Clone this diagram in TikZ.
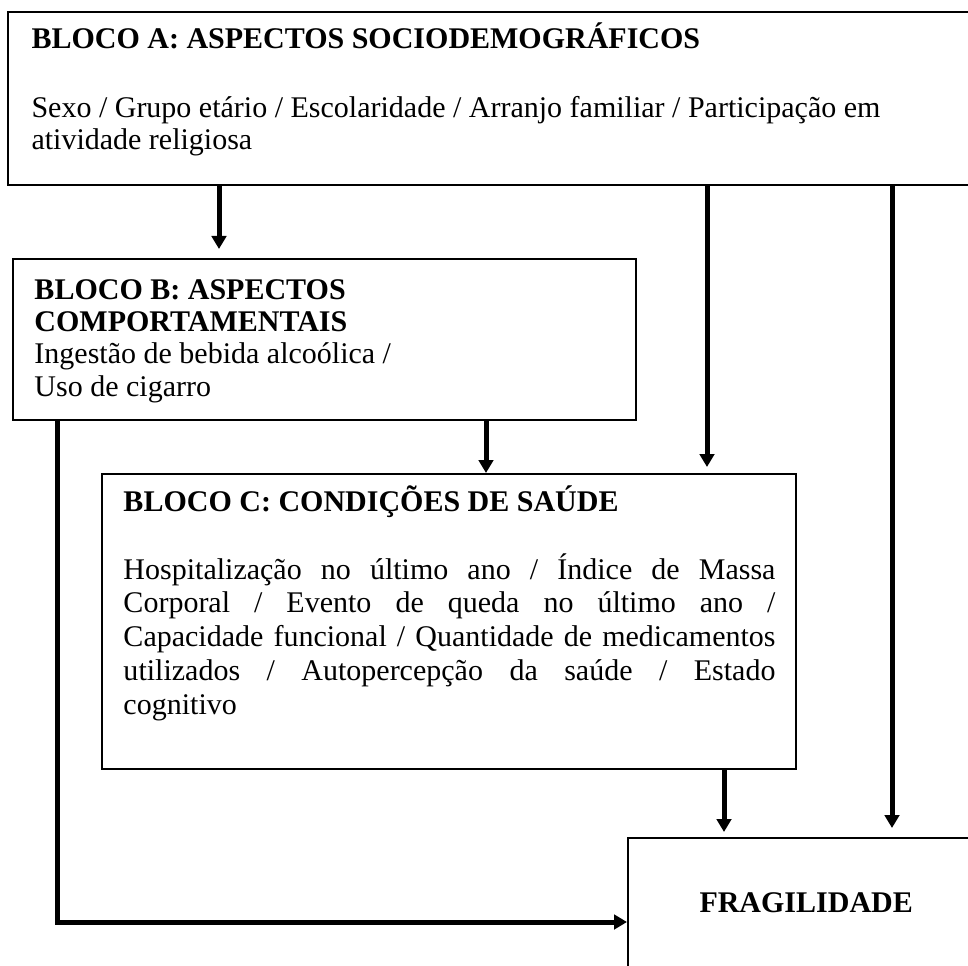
\documentclass[tikz,border=0pt]{standalone}
\usepackage{fontspec}
\setmainfont{Liberation Serif}
\usetikzlibrary{arrows.meta,fit}

\tikzset{
  blockbox/.style={draw=black, line width=0.8pt, inner sep=0pt},
  linetxt/.style={inner sep=0pt, anchor=base west,
                  font=\fontsize{12pt}{12.8pt}\selectfont},
  headtxt/.style={linetxt, font=\fontsize{12pt}{12.8pt}\selectfont\bfseries},
  flow/.style={line width=2pt, -{Triangle[length=5.2pt,width=5.8pt]}},
}

\begin{document}
\begin{tikzpicture}[x=0.4pt, y=-0.4pt]
  \useasboundingbox (0,0) rectangle (968,966);
  \clip (0,0) rectangle (968,966);

  % block frames
  \node[blockbox, fit={(8,12) (1010,185)}] (A) {};
  \node[blockbox, fit={(13,259) (636,420)}] (B) {};
  \node[blockbox, fit={(102,474) (796,769)}] (C) {};
  \node[blockbox, fit={(628,838) (1010,1010)}] (F) {};

  % block A
  \node[headtxt] (Ahead) at (31,49) {BLOCO A: ASPECTOS SOCIODEMOGRÁFICOS};
  \node[linetxt] (Abody) at (31,118) {\parbox[t]{380pt}{\fontsize{12pt}{12.8pt}\selectfont
    Sexo / Grupo etário / Escolaridade / Arranjo familiar / Participação em\\
    atividade religiosa}};

  % block B
  \node[linetxt] (Btext) at (34,300) {\parbox[t]{250pt}{\fontsize{12pt}{12.8pt}\selectfont
    \textbf{BLOCO B: ASPECTOS}\\
    \textbf{COMPORTAMENTAIS}\\
    Ingestão de bebida alcoólica /\\
    Uso de cigarro}};

  % block C
  \node[headtxt] (Chead) at (123,512) {BLOCO C: CONDIÇÕES DE SAÚDE};
  \node[linetxt] (Cbody) at (123,579) {\parbox[t]{260.8pt}{\fontsize{12pt}{13.5pt}\selectfont
    \tolerance=10000 \hbadness=10000
    Hospitalização no último ano / Índice de Massa\linebreak
    Corporal / Evento de queda no último ano /\linebreak
    Capacidade funcional / Quantidade de medicamentos\linebreak
    utilizados / Autopercepção da saúde / Estado\linebreak
    cognitivo}};

  % outcome
  \node[headtxt] (Ftext) at (699,912) {FRAGILIDADE};

  % arrow columns and turning level
  \coordinate (xAB) at (219,0);
  \coordinate (xAC) at (707,0);
  \coordinate (xAF) at (892,0);
  \coordinate (xBC) at (486,0);
  \coordinate (xCF) at (724,0);
  \coordinate (xBF) at (57,0);
  \coordinate (yBF) at (0,922);

  \draw[flow] (A.south -| xAB) -- ([yshift=3.6pt]B.north -| xAB);
  \draw[flow] (A.south -| xAC) -- ([yshift=2.4pt]C.north -| xAC);
  \draw[flow] (A.south -| xAF) -- ([yshift=3.6pt]F.north -| xAF);
  \draw[flow] (B.south -| xBC) -- (C.north -| xBC);
  \draw[flow] (C.south -| xCF) -- ([yshift=2pt]F.north -| xCF);
  \draw[flow] (B.south -| xBF) |- (F.west |- yBF);
\end{tikzpicture}
\end{document}
